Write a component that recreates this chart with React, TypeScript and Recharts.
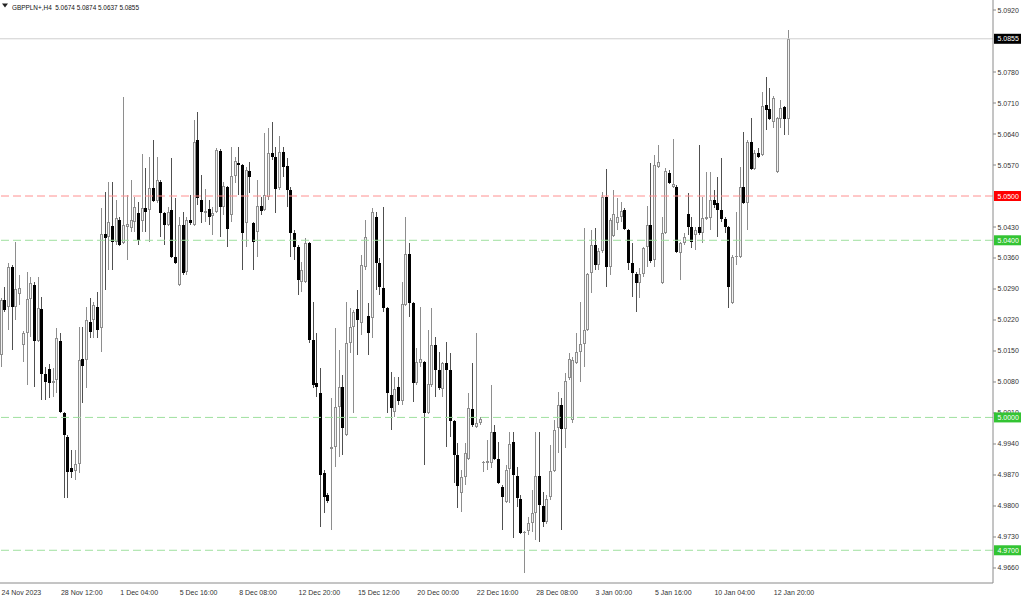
import React from 'react';
import { ComposedChart, Bar, XAxis, YAxis, ReferenceLine } from 'recharts';

const opens = [5.0141,5.0265,5.0249,5.0340,5.0249,5.0279,5.0164,5.0191,5.0267,5.0299,5.0173,5.0245,5.0098,5.0109,5.0078,5.0085,5.0173,5.0010,4.9956,4.9886,4.9879,4.9895,5.0132,5.0130,5.0215,5.0220,5.0249,5.0202,5.0414,5.0407,5.0432,5.0396,5.0446,5.0394,5.0430,5.0428,5.0441,5.0462,5.0444,5.0473,5.0468,5.0518,5.0489,5.0532,5.0462,5.0435,5.0468,5.0362,5.0299,5.0435,5.0328,5.0446,5.0435,5.0626,5.0491,5.0462,5.0471,5.0455,5.0464,5.0602,5.0475,5.0520,5.0457,5.0545,5.0575,5.0570,5.0439,5.0556,5.0439,5.0419,5.0477,5.0468,5.0498,5.0597,5.0588,5.0518,5.0599,5.0568,5.0514,5.0416,5.0385,5.0306,5.0306,5.0394,5.0175,5.0078,5.0055,4.9875,4.9825,4.9929,4.9933,5.0024,5.0069,4.9960,5.0168,5.0204,5.0245,5.0213,5.0340,5.0229,5.0225,5.0453,5.0349,5.0292,5.0247,5.0051,5.0012,5.0069,5.0037,5.0254,5.0369,5.0258,5.0078,5.0123,5.0125,5.0010,5.0073,5.0164,5.0107,5.0064,5.0123,5.0107,4.9992,4.9915,4.9829,4.9865,4.9906,5.0019,4.9978,4.9987,4.9897,4.9897,4.9897,4.9967,4.9906,4.9843,4.9809,4.9884,4.9945,4.9868,4.9816,4.9739,4.9744,4.9762,4.9784,4.9868,4.9800,4.9764,4.9820,4.9879,4.9976,5.0028,4.9974,5.0089,4.9994,5.0123,5.0148,5.0166,5.0197,5.0326,5.0389,5.0344,5.0376,5.0498,5.0340,5.0410,5.0439,5.0453,5.0468,5.0423,5.0349,5.0324,5.0304,5.0324,5.0385,5.0435,5.0355,5.0565,5.0304,5.0416,5.0552,5.0520,5.0520,5.0371,5.0394,5.0459,5.0430,5.0412,5.0430,5.0416,5.0448,5.0450,5.0491,5.0484,5.0468,5.0448,5.0430,5.0258,5.0362,5.0362,5.0520,5.0484,5.0622,5.0561,5.0597,5.0593,5.0705,5.0696,5.0667,5.0554,5.0674,5.0701,5.0674];

const highs = [5.0270,5.0295,5.0349,5.0344,5.0396,5.0322,5.0195,5.0328,5.0317,5.0306,5.0317,5.0272,5.0114,5.0121,5.0112,5.0202,5.0191,5.0012,4.9960,4.9926,4.9926,5.0204,5.0204,5.0249,5.0270,5.0261,5.0283,5.0473,5.0509,5.0532,5.0532,5.0491,5.0453,5.0724,5.0502,5.0536,5.0498,5.0486,5.0595,5.0563,5.0588,5.0626,5.0588,5.0536,5.0464,5.0475,5.0586,5.0495,5.0453,5.0464,5.0453,5.0502,5.0672,5.0690,5.0547,5.0516,5.0491,5.0475,5.0608,5.0606,5.0532,5.0523,5.0611,5.0588,5.0611,5.0572,5.0565,5.0577,5.0441,5.0536,5.0498,5.0642,5.0654,5.0667,5.0611,5.0635,5.0611,5.0586,5.0520,5.0423,5.0389,5.0351,5.0405,5.0396,5.0261,5.0191,5.0112,4.9881,4.9829,5.0044,5.0202,5.0152,5.0096,5.0261,5.0247,5.0243,5.0288,5.0367,5.0446,5.0258,5.0473,5.0464,5.0360,5.0475,5.0249,5.0103,5.0091,5.0091,5.0306,5.0453,5.0394,5.0261,5.0157,5.0249,5.0127,5.0197,5.0247,5.0182,5.0148,5.0125,5.0170,5.0145,4.9994,4.9942,4.9881,4.9942,5.0055,5.0123,5.0191,5.0001,4.9902,4.9949,5.0073,4.9983,4.9945,4.9847,4.9893,4.9967,4.9967,4.9888,4.9825,4.9744,4.9775,4.9836,4.9967,4.9967,4.9832,4.9825,4.9938,4.9994,5.0057,5.0044,5.0100,5.0145,5.0136,5.0191,5.0261,5.0428,5.0326,5.0423,5.0428,5.0383,5.0509,5.0561,5.0450,5.0514,5.0495,5.0486,5.0473,5.0425,5.0394,5.0328,5.0337,5.0385,5.0477,5.0575,5.0593,5.0615,5.0453,5.0563,5.0559,5.0629,5.0525,5.0396,5.0416,5.0507,5.0453,5.0430,5.0615,5.0498,5.0554,5.0554,5.0514,5.0543,5.0586,5.0453,5.0432,5.0367,5.0464,5.0565,5.0645,5.0626,5.0676,5.0604,5.0608,5.0735,5.0769,5.0744,5.0726,5.0678,5.0717,5.0703,5.0874];

const lows = [5.0114,5.0238,5.0197,5.0152,5.0220,5.0254,5.0125,5.0073,5.0182,5.0069,5.0170,5.0039,5.0039,5.0044,5.0046,5.0055,5.0010,4.9818,4.9818,4.9863,4.9859,4.9875,5.0033,5.0066,5.0179,5.0179,5.0179,5.0148,5.0288,5.0333,5.0333,5.0389,5.0387,5.0392,5.0355,5.0419,5.0419,5.0389,5.0419,5.0419,5.0396,5.0486,5.0484,5.0407,5.0389,5.0432,5.0360,5.0346,5.0297,5.0322,5.0322,5.0435,5.0432,5.0480,5.0439,5.0441,5.0435,5.0412,5.0462,5.0407,5.0457,5.0385,5.0441,5.0529,5.0502,5.0333,5.0385,5.0507,5.0333,5.0362,5.0457,5.0466,5.0491,5.0581,5.0462,5.0514,5.0543,5.0475,5.0362,5.0355,5.0276,5.0283,5.0304,5.0168,5.0066,5.0046,4.9753,4.9784,4.9807,4.9746,4.9888,4.9911,4.9915,4.9958,5.0145,5.0010,5.0141,5.0186,5.0333,5.0141,5.0179,5.0288,5.0276,5.0238,5.0010,4.9972,5.0001,5.0028,5.0028,5.0252,5.0227,5.0035,5.0073,5.0114,4.9893,5.0008,5.0069,5.0046,5.0062,5.0046,4.9933,4.9956,4.9852,4.9795,4.9786,4.9847,4.9904,4.9978,4.9976,4.9983,4.9877,4.9881,4.9886,4.9904,4.9850,4.9746,4.9807,4.9807,4.9728,4.9798,4.9737,4.9649,4.9735,4.9741,4.9723,4.9719,4.9753,4.9759,4.9813,4.9877,4.9920,4.9746,4.9931,5.0085,4.9987,5.0121,5.0080,5.0114,5.0195,5.0281,5.0333,5.0333,5.0371,5.0295,5.0322,5.0407,5.0423,5.0441,5.0423,5.0333,5.0272,5.0238,5.0270,5.0317,5.0340,5.0349,5.0340,5.0563,5.0301,5.0414,5.0527,5.0518,5.0371,5.0310,5.0389,5.0412,5.0383,5.0378,5.0412,5.0394,5.0446,5.0423,5.0473,5.0407,5.0441,5.0416,5.0247,5.0256,5.0344,5.0360,5.0482,5.0423,5.0559,5.0559,5.0586,5.0590,5.0649,5.0672,5.0654,5.0552,5.0654,5.0638,5.0637];

const closes = [5.0265,5.0243,5.0340,5.0249,5.0290,5.0292,5.0191,5.0267,5.0304,5.0173,5.0247,5.0098,5.0080,5.0078,5.0082,5.0179,5.0012,4.9960,4.9877,4.9877,4.9895,5.0130,5.0116,5.0220,5.0193,5.0254,5.0197,5.0414,5.0405,5.0441,5.0396,5.0450,5.0389,5.0435,5.0437,5.0446,5.0475,5.0401,5.0473,5.0464,5.0518,5.0489,5.0536,5.0462,5.0435,5.0464,5.0362,5.0349,5.0435,5.0326,5.0446,5.0439,5.0622,5.0495,5.0464,5.0466,5.0453,5.0462,5.0604,5.0475,5.0523,5.0425,5.0545,5.0579,5.0570,5.0416,5.0559,5.0543,5.0396,5.0477,5.0466,5.0502,5.0597,5.0588,5.0516,5.0599,5.0565,5.0514,5.0416,5.0385,5.0310,5.0333,5.0394,5.0175,5.0073,5.0069,4.9870,4.9820,4.9811,4.9933,5.0024,5.0069,4.9976,5.0168,5.0204,5.0238,5.0220,5.0344,5.0407,5.0191,5.0464,5.0349,5.0295,5.0247,5.0055,5.0021,5.0064,5.0037,5.0256,5.0369,5.0258,5.0078,5.0125,5.0132,5.0010,5.0075,5.0164,5.0107,5.0066,5.0123,5.0107,4.9992,4.9915,4.9845,4.9865,4.9920,5.0021,4.9983,4.9987,4.9996,4.9899,4.9902,4.9967,4.9906,4.9852,4.9820,4.9881,4.9940,4.9870,4.9818,4.9739,4.9741,4.9762,4.9784,4.9868,4.9802,4.9764,4.9816,4.9879,4.9972,5.0028,4.9974,5.0082,5.0132,5.0130,5.0148,5.0166,5.0197,5.0324,5.0389,5.0344,5.0376,5.0498,5.0340,5.0446,5.0459,5.0453,5.0466,5.0425,5.0349,5.0326,5.0304,5.0324,5.0383,5.0435,5.0353,5.0570,5.0577,5.0416,5.0556,5.0529,5.0527,5.0374,5.0394,5.0407,5.0430,5.0396,5.0423,5.0416,5.0450,5.0453,5.0491,5.0480,5.0468,5.0448,5.0430,5.0295,5.0362,5.0365,5.0520,5.0484,5.0622,5.0561,5.0597,5.0588,5.0703,5.0694,5.0674,5.0721,5.0676,5.0699,5.0674,5.0855];

const timeLabels = ['24 Nov 2023', '28 Nov 12:00', '1 Dec 04:00', '5 Dec 16:00', '8 Dec 08:00', '12 Dec 20:00', '15 Dec 12:00', '20 Dec 00:00', '22 Dec 16:00', '28 Dec 08:00', '3 Jan 00:00', '5 Jan 16:00', '10 Jan 04:00', '12 Jan 20:00'];
const timeLabelBars = [0, 16, 32, 48, 64, 80, 96, 112, 128, 144, 160, 176, 192, 208];

const priceTicks = [5.0920, 5.0780, 5.0710, 5.0640, 5.0570, 5.0430, 5.0360, 5.0290, 5.0220, 5.0150, 5.0080, 5.0010, 4.9940, 4.9870, 4.9800, 4.9730, 4.9660];
const levelPrices = [5.0500, 5.0400, 5.0000, 4.9700];
const levelColors = ['#ff9090', '#9fe09f', '#9fe09f', '#9fe09f'];
const levelBoxColors = ['#ff0000', '#33c433', '#33c433', '#33c433'];
const bidPrice = 5.0855;

const symbolTitle = 'GBPPLN+,H4  5.0674 5.0874 5.0637 5.0855';

const data = opens.map((o, i) => ({ i, open: o, high: highs[i], low: lows[i], close: closes[i] }));

const boxed = [{ value: bidPrice, color: '#000000' }, ...levelPrices.map((v, k) => ({ value: v, color: levelBoxColors[k] }))];
const allTicks = [...priceTicks, ...boxed.map((b) => b.value)];

const FONT = '"Liberation Sans", Arial, sans-serif';

const Candle = (props: any) => {
  const { x, y, width, height, payload } = props;
  if (!payload || !isFinite(x) || !isFinite(y) || !isFinite(height)) return null;
  const top = Math.min(y, y + height);
  const bot = Math.max(y, y + height);
  const { open, high, low, close } = payload;
  const span = high - low;
  const k = span > 0 ? (bot - top) / span : 0;
  const py = (v: number) => top + (high - v) * k;
  const cx = Math.floor(x + width / 2) + 0.5;
  const yH = Math.round(py(high));
  const yL = Math.round(py(low));
  const yO = Math.round(py(open));
  const yC = Math.round(py(close));
  const bull = close >= open;
  const wickColor = bull ? '#8e8e8e' : '#505050';
  let body;
  if (bull) {
    const bt = yC, bb = yO;
    if (bb - bt < 2) {
      body = <rect x={cx - 1.5} y={bt} width={3} height={Math.max(1, bb - bt)} fill="#8e8e8e" />;
    } else {
      body = <rect x={cx - 1} y={bt + 0.5} width={2} height={bb - bt - 1} fill="#f2f2f2" stroke="#8e8e8e" strokeWidth={1} />;
    }
  } else {
    body = <rect x={cx - 1.5} y={yO} width={3} height={Math.max(1, yC - yO)} fill="#000000" />;
  }
  return (
    <g>
      <line x1={cx} x2={cx} y1={yH} y2={yL} stroke={wickColor} strokeWidth={1} />
      {body}
    </g>
  );
};

const TimeTick = (props: any) => {
  const { x, y, payload } = props;
  const idx = timeLabelBars.indexOf(payload.value);
  if (idx < 0) return null;
  return (
    <text x={x} y={y + 11.5} fontSize={7} fill="#333" fontFamily={FONT} textAnchor="start">
      {timeLabels[idx]}
    </text>
  );
};

const PriceTick = (props: any) => {
  const { x, y, payload } = props;
  const v = payload.value;
  const b = boxed.find((s) => Math.abs(s.value - v) < 1e-7);
  if (b) {
    return (
      <g>
        <rect x={x + 1} y={y - 5} width={27} height={10} fill={b.color} />
        <text x={x + 4.5} y={y + 2.5} fontSize={7} fill="#ffffff" fontFamily={FONT}>{v.toFixed(4)}</text>
      </g>
    );
  }
  return (
    <g>
      <line x1={x} x2={x + 3} y1={y} y2={y} stroke="#888" />
      <text x={x + 4.5} y={y + 2.5} fontSize={7} fill="#333" fontFamily={FONT}>{v.toFixed(4)}</text>
    </g>
  );
};

export default function App() {
  return (
    <div style={{ position: 'absolute', left: 0, top: 0, width: 1024, height: 599, background: '#ffffff', overflow: 'hidden' }}>
      <ComposedChart width={1024} height={599} data={data} margin={{ top: 0, right: 0, bottom: 0, left: 0 }} style={{ fontFamily: FONT }}>
        <XAxis
          dataKey="i"
          type="number"
          domain={[-0.404, 267.04]}
          ticks={timeLabelBars}
          interval={0}
          height={16}
          tickSize={0}
          tickMargin={0}
          tickLine={false}
          axisLine={{ stroke: '#8a8a8a' }}
          tick={<TimeTick />}
          allowDataOverflow
        />
        <YAxis
          orientation="right"
          type="number"
          domain={[4.96261, 5.09426]}
          ticks={allTicks}
          interval={0}
          width={31}
          tickSize={0}
          tickMargin={0}
          tickLine={false}
          axisLine={{ stroke: '#8a8a8a' }}
          tick={<PriceTick />}
          allowDataOverflow
        />
        <ReferenceLine y={bidPrice} stroke="#cfcfcf" strokeWidth={1} />
        {levelPrices.map((p, k) => (
          <ReferenceLine key={p} y={p} stroke={levelColors[k]} strokeWidth={1} strokeDasharray="8 4" />
        ))}
        <Bar dataKey={(d: any) => [d.low, d.high]} barSize={3} isAnimationActive={false} shape={(p: any) => <Candle {...p} />} />
      </ComposedChart>
      <svg width={300} height={16} style={{ position: 'absolute', left: 0, top: 0 }}>
        <polygon points="2,3.5 8,3.5 5,7.5" fill="#222" />
        <text x={12} y={9.5} fontSize={8} fill="#111" fontFamily={FONT} textLength={127} lengthAdjust="spacingAndGlyphs" xmlSpace="preserve">{symbolTitle}</text>
      </svg>
    </div>
  );
}
